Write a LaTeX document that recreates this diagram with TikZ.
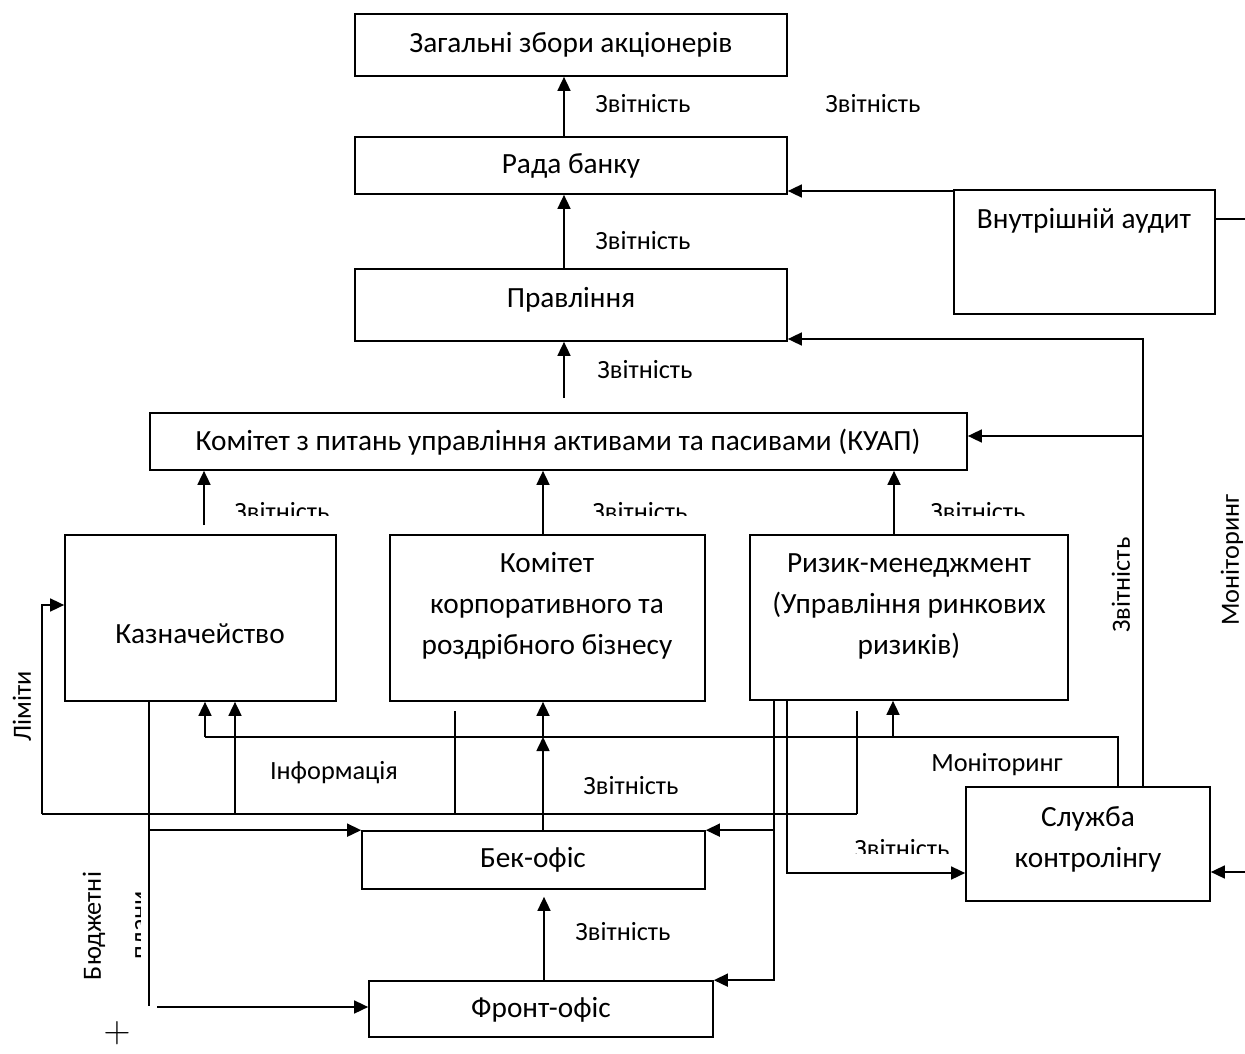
\documentclass[tikz,border=0pt]{standalone}
\usepackage{fontspec}
\setmainfont{Carlito}
\usetikzlibrary{arrows.meta,calc}
\begin{document}
\begin{tikzpicture}[x=1pt,y=-1pt,
  boxn/.style={draw,line width=1.7pt,inner sep=0pt},
  txt/.style={font=\fontsize{29.3}{41}\selectfont,align=center,inner sep=0pt},
  lbl/.style={font=\fontsize{26.3}{30}\selectfont,inner sep=0pt},
  ln/.style={line width=1.6pt},
  arr/.style={line width=1.6pt,-{Triangle[length=14pt,width=13pt]}}]
\useasboundingbox (0,0) rectangle (1245,1054);
% boxes
\node[boxn,minimum width=432pt,minimum height=62pt] (Z) at (571,45) {};
\node[boxn,minimum width=432pt,minimum height=57pt] (R) at (571,165.5) {};
\node[boxn,minimum width=432pt,minimum height=72pt] (P) at (571,305) {};
\node[boxn,minimum width=261pt,minimum height=124pt] (IA) at (1084.5,252) {};
\node[boxn,minimum width=817pt,minimum height=57pt] (KUAP) at (558.5,441.5) {};
\node[boxn,minimum width=271pt,minimum height=166pt] (K) at (200.5,618) {};
\node[boxn,minimum width=315pt,minimum height=166pt] (KK) at (547.5,618) {};
\node[boxn,minimum width=318pt,minimum height=165pt] (RM) at (909,617.5) {};
\node[boxn,minimum width=343pt,minimum height=58pt] (BO) at (533.5,860) {};
\node[boxn,minimum width=344pt,minimum height=56pt] (FO) at (541,1009) {};
\node[boxn,minimum width=244pt,minimum height=114pt] (SK) at (1088,844) {};
% box texts
\node[txt] (Zt) at (571,45) {Загальні збори акціонерів};
\node[txt] (Rt) at (571,166) {Рада банку};
\node[txt] (Pt) at (571,300) {Правління};
\node[txt] (IAt) at (1084,221) {Внутрішній аудит};
\node[txt] (KUAPt) at (558,442) {Комітет з питань управління активами та пасивами (КУАП)};
\node[txt] (Kt) at (200,634) {Казначейство};
\node[txt] (KKt) at (547,606) {Комітет\\корпоративного та\\роздрібного бізнесу};
\node[txt] (RMt) at (909,606) {Ризик-менеджмент\\(Управління ринкових\\ризиків)};
\node[txt] (BOt) at (533,860) {Бек-офіс};
\node[txt] (FOt) at (541,1010) {Фронт-офіс};
\node[txt] (SKt) at (1088,839) {Служба\\контролінгу};
% labels
\node[lbl] (l1) at (643,104) {Звітність};
\node[lbl] (l2) at (873,104) {Звітність};
\node[lbl] (l3) at (643,241) {Звітність};
\node[lbl] (l4) at (645,370) {Звітність};
\begin{scope}
\clip (150,480) rectangle (1100,515);
\node[lbl,anchor=base] (l5) at (282,520) {Звітність};
\node[lbl,anchor=base] (l6) at (640,520) {Звітність};
\node[lbl,anchor=base] (l7) at (978,520) {Звітність};
\end{scope}
\node[lbl] (l8) at (334,773) {Інформація};
\node[lbl] (l9) at (631,786) {Звітність};
\node[lbl] (l10) at (997,765) {Моніторинг};
\begin{scope}
\clip (840,825) rectangle (960,853);
\node[lbl,anchor=base] (l11) at (902,857) {Звітність};
\end{scope}
\node[lbl] (l12) at (623,932) {Звітність};
\node[lbl,rotate=90] (l13) at (1121,585) {Звітність};
\node[lbl,rotate=90] (l14) at (1232,560) {Моніторинг};
\node[lbl,rotate=90] (l15) at (22,706) {Ліміти};
\node[lbl,rotate=90] (l16) at (94,926) {Бюджетні};
\begin{scope}
\clip (120,850) rectangle (140,1000);
\node[lbl,rotate=90] (l17) at (141.5,925) {плани};
\end{scope}
\node[inner sep=0pt,scale=1.8,font=\fontsize{20}{22}\selectfont] (plus) at (117,1033) {$+$};
% connectors
\coordinate (cT) at (564,0);
\draw[arr] (R.north -| cT) -- (Z.south -| cT);
\draw[arr] (P.north -| cT) -- (R.south -| cT);
\coordinate (pfree) at (564,398);
\draw[arr] (pfree) -- (P.south -| pfree);
\coordinate (kfree) at (204,525);
\draw[arr] (kfree) -- (KUAP.south -| kfree);
\coordinate (c543) at (543,0);
\draw[arr] (KK.north -| c543) -- (KUAP.south -| c543);
\coordinate (c894) at (894,0);
\draw[arr] (RM.north -| c894) -- (KUAP.south -| c894);
\coordinate (yIA) at (0,191);
\draw[arr] (IA.west |- yIA) -- (R.east |- yIA);
\coordinate (iaend) at (1245,219);
\draw[ln] (IA.east |- iaend) -- (iaend);
\coordinate (c1143) at (1143,339);
\draw[arr] (SK.north -| c1143) -- (c1143) -- (P.east |- c1143);
\coordinate (yK) at (0,436);
\draw[arr] (c1143 |- yK) -- (KUAP.east |- yK);
\coordinate (m) at (1118,737);
\coordinate (m2) at (205,737);
\draw[ln] (SK.north -| m) -- (m) -- (m2);
\draw[arr] (m2) -- (K.south -| m2);
\coordinate (m3) at (893,737);
\draw[arr] (m3) -- (RM.south -| m3);
\coordinate (m4) at (543,737);
\draw[arr] (BO.north -| m4) -- (m4);
\draw[arr] (m4) -- (KK.south -| m4);
\coordinate (i0) at (42,814);
\coordinate (i1) at (857,814);
\draw[ln] (i0) -- (i1);
\coordinate (ilim) at (42,605);
\draw[arr] (i0) -- (ilim) -- (K.west |- ilim);
\coordinate (i2) at (235,814);
\draw[arr] (i2) -- (K.south -| i2);
\coordinate (i3) at (455,814);
\coordinate (i3t) at (455,711);
\draw[ln] (i3) -- (i3t);
\coordinate (i1t) at (857,711);
\draw[ln] (i1) -- (i1t);
\coordinate (b0) at (149,0);
\coordinate (bend) at (149,1006);
\draw[ln] (K.south -| b0) -- (bend);
\draw[arr] (b0 |- BO.north) -- (BO.north west);
\coordinate (bf) at (157,1007);
\draw[arr] (bf) -- (FO.west |- bf);
\coordinate (r1) at (774,0);
\coordinate (r2) at (787,0);
\draw[arr] (RM.south -| r1) |- (FO.north east);
\draw[arr] (r1 |- BO.north) -- (BO.north east);
\coordinate (ys) at (0,873);
\draw[arr] (RM.south -| r2) |- (SK.west |- ys);
\coordinate (c544) at (544,0);
\draw[arr,shorten >=7pt] (FO.north -| c544) -- (BO.south -| c544);
\coordinate (re) at (1245,872);
\draw[arr] (re) -- (SK.east |- re);
\end{tikzpicture}
\end{document}
